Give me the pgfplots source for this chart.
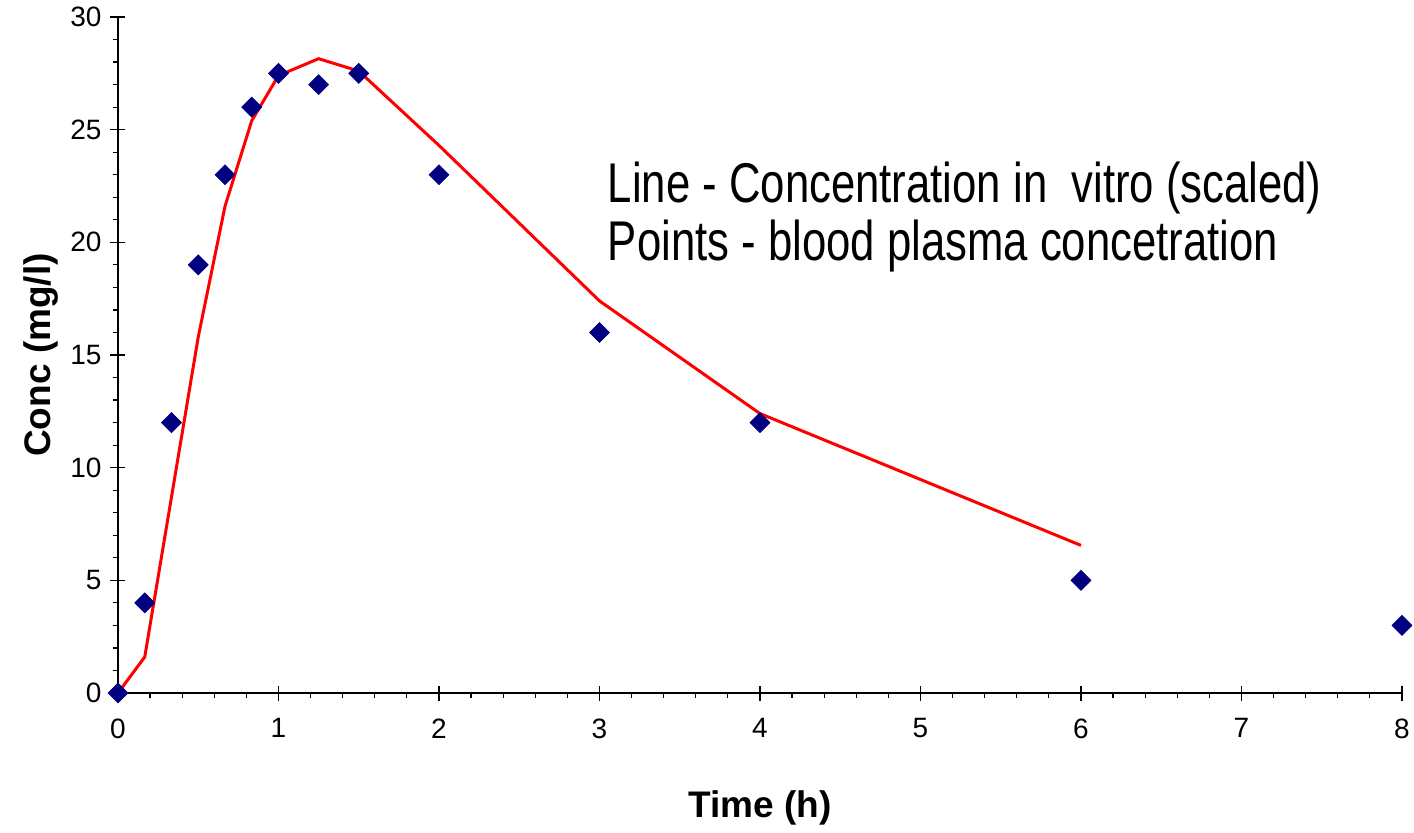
\documentclass[border=0pt]{standalone}
\usepackage{fontspec}
\setmainfont{Liberation Sans}
\usepackage{graphicx}
\usepackage{pgfplots}
\pgfplotsset{compat=1.18}
\definecolor{navyblue}{RGB}{0,0,128}
\begin{document}
\begin{tikzpicture}
\begin{axis}[
  at={(0,0)}, anchor=origin,
  scale only axis, width=642pt, height=338pt,
  xmin=0, xmax=8, ymin=0, ymax=30,
  axis x line=bottom, axis y line=left,
  axis line style={-, line width=0.75pt, black},
  xtick={0,1,...,8}, ytick={0,5,...,30},
  minor x tick num=4, minor y tick num=4,
  tick align=center,
  major tick length=7.5pt, minor tick length=2.6pt,
  tick style={line width=0.6pt, black},
  minor x tick style={yshift=-1.3pt},
  minor y tick style={xshift=-1.3pt},
  /pgf/number format/assume math mode=true,
  ticklabel style={font=\fontsize{14}{16}\selectfont},
  xticklabel style={yshift=-5.5pt},
  yticklabel style={xshift=-1pt},
  xlabel={\textbf{Time (h)}},
  ylabel={\textbf{Conc (mg/l)}},
  label style={font=\fontsize{18.5}{22}\selectfont},
  xlabel style={at={(axis description cs:0.5,-0.170)}, anchor=center},
  ylabel style={at={(axis description cs:-0.0600,0.5)}, anchor=center, rotate=0},
  clip=false,
]
\addplot[red, line width=1.5pt, mark=none] coordinates {
(0,0) (0.1667,1.6) (0.3333,8.7) (0.5,15.8) (0.6667,21.6) (0.8333,25.4) (1,27.4) (1.25,28.15) (1.5,27.6) (2,24.3) (3,17.4) (4,12.4) (6,6.55)
};
\addplot[only marks, mark=square*, mark size=3.5pt, mark options={rotate=45, fill=navyblue, draw=navyblue}] coordinates {
(0,0) (0.1667,4) (0.3333,12) (0.5,19) (0.6667,23) (0.8333,26) (1,27.5) (1.25,27) (1.5,27.5) (2,23) (3,16) (4,12) (6,5) (8,3)
};
\node[anchor=base west, inner sep=0pt, font=\fontsize{28}{32}\selectfont] at (axis cs:3.05,21.75) {\scalebox{0.78}[1]{Line - Concentration in\ \ vitro (scaled)}};
\node[anchor=base west, inner sep=0pt, font=\fontsize{28}{32}\selectfont] at (axis cs:3.05,19.2) {\scalebox{0.78}[1]{Points - blood plasma concetration}};
\end{axis}
\pgfresetboundingbox
\path[use as bounding box] (-59pt,-69.5pt) rectangle (648pt,346.5pt);
\end{tikzpicture}
\end{document}
